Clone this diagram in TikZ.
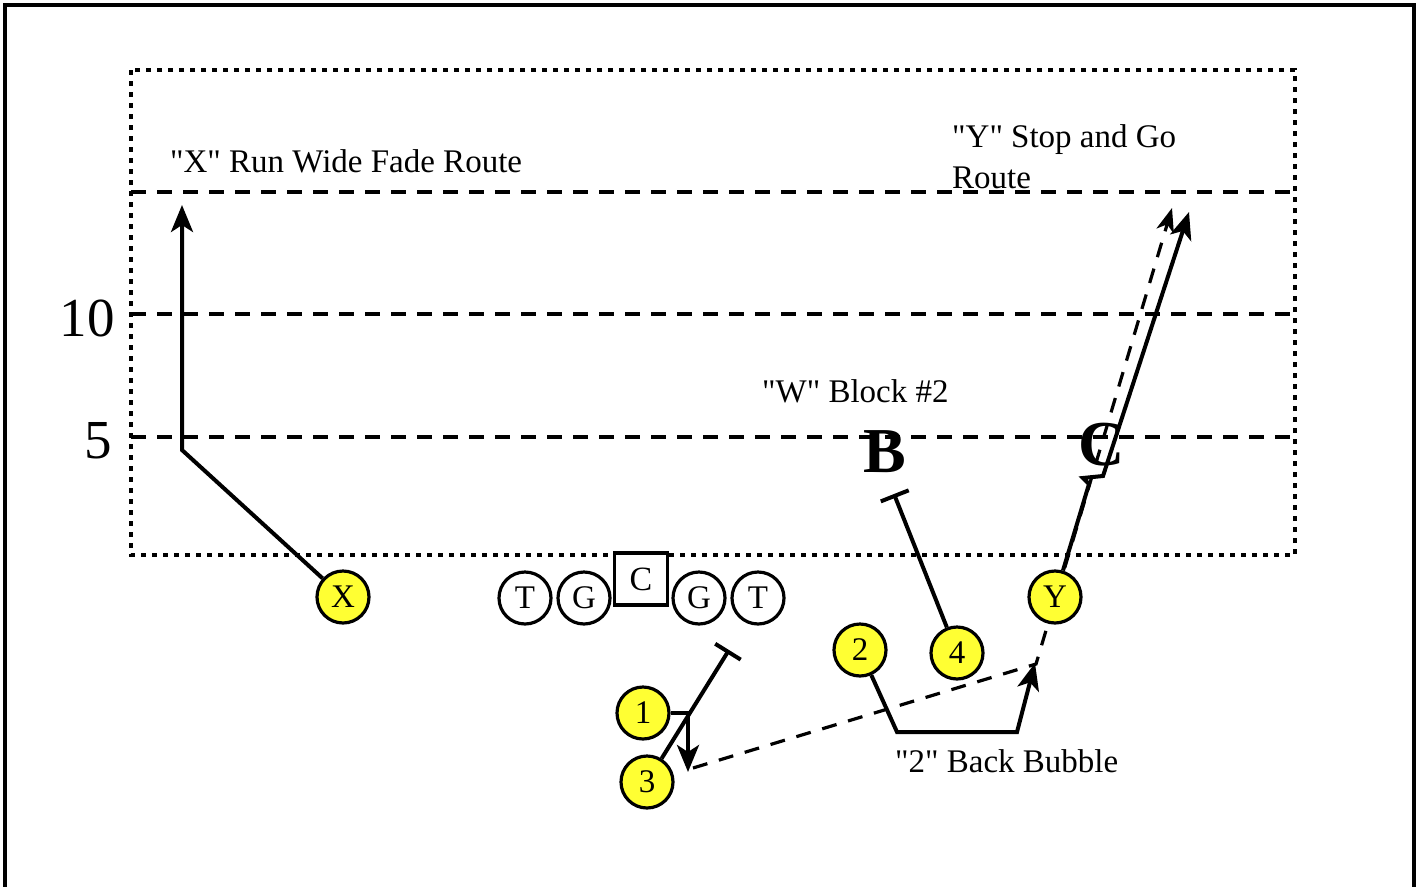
\documentclass[tikz,border=0pt]{standalone}
\usepackage{fontspec}
\setmainfont{Liberation Serif}[Ligatures=TeXOff]
\usetikzlibrary{arrows.meta}
\definecolor{plyellow}{RGB}{255,255,51}
\pgfdeclarelayer{bg}
\pgfsetlayers{bg,main}
\begin{document}
\begin{tikzpicture}[x=1pt,y=-1pt,
  player/.style={circle,draw,line width=3.2pt,minimum size=52pt,inner sep=0pt,font=\fontsize{33}{36}\selectfont},
  offp/.style={player,fill=plyellow},
  linep/.style={player,fill=white},
  centerp/.style={rectangle,draw,line width=3.2pt,minimum width=53pt,minimum height=52pt,inner sep=0pt,fill=white,font=\fontsize{34}{36}\selectfont},
  route/.style={line width=4pt},
  arr/.style={-{Stealth[length=27pt,width=22pt,inset=7pt]}},
  parr/.style={-{Stealth[length=24pt,width=18pt,inset=7pt]}},
  blk/.style={-{Bar[width=30pt]}},
  fieldline/.style={line width=3.5pt,dash pattern=on 15pt off 11pt},
  dotline/.style={line width=3.5pt,dash pattern=on 5pt off 6pt},
  passline/.style={line width=3.2pt,dash pattern=on 15pt off 12pt},
  lbl/.style={anchor=base west,inner sep=0pt,font=\fontsize{33}{40}\selectfont},
  yard/.style={inner sep=0pt,font=\fontsize{55}{60}\selectfont},
  defl/.style={inner sep=0pt,font=\bfseries\fontsize{64}{70}\selectfont}]
\useasboundingbox (0,0) rectangle (1423,886);
% frame and field
\draw[line width=3.5pt] (5,892) -- (5,5) -- (1414,5) -- (1414,892);
\begin{pgfonlayer}{bg}
\draw[dotline] (131,70) rectangle (1295,555);
\draw[fieldline] (131,192) -- (1295,192);
\draw[fieldline] (131,314) -- (1295,314);
\draw[fieldline] (131,437) -- (1295,437);
\end{pgfonlayer}
\node[yard] (y10) at (87,318) {10};
\node[yard] (y5) at (98,441) {5};
% labels
\node[lbl] (xtxt) at (170,172) {"X" Run Wide Fade Route};
\node[lbl] (ytxt1) at (952,147) {"Y" Stop and Go};
\node[lbl] (ytxt2) at (952,188) {Route};
\node[lbl] (wtxt) at (762,402) {"W" Block \#2};
\node[lbl] (btxt) at (895,772) {"2" Back Bubble};
% defenders
\node[defl] (B) at (885,452) {B};
\node[defl] (C) at (1102,445) {C};
% players
\node[offp] (X) at (343,597) {X};
\node[linep] (T1) at (525,598) {T};
\node[linep] (G1) at (584,598) {G};
\node[centerp] (Cn) at (641,579) {C};
\node[linep] (G2) at (699,598) {G};
\node[linep] (T2) at (758,598) {T};
\node[offp] (P1) at (643,713) {1};
\node[offp] (P3) at (647,782) {3};
\node[offp] (P2) at (860,650) {2};
\node[offp] (P4) at (957,653) {4};
\node[offp] (PY) at (1055,597) {Y};
% route points
\coordinate (xb) at (182,450);
\coordinate (xe) at (182,205);
\coordinate (c1) at (688,713);
\coordinate (e1) at (688,772);
\coordinate (b3) at (729,650);
\coordinate (b4) at (894,494);
\coordinate (r2a) at (897,732);
\coordinate (r2b) at (1017,732);
\coordinate (r2e) at (1035,663);
\coordinate (ya) at (1089,484);
\coordinate (yb) at (1083,478);
\coordinate (yc) at (1103,476);
\coordinate (ye) at (1189,212);
\coordinate (ps) at (693,768);
\coordinate (pc) at (1036,664);
\coordinate (pe) at (1172,208);
% routes
\draw[route,arr] (X) -- (xb) -- (xe);
\draw[route,arr] (P1.east) -- (c1) -- (e1);
\draw[route,blk] (P3) -- (b3);
\draw[route,blk] (P4) -- (b4);
\draw[route,arr] (P2) -- (r2a) -- (r2b) -- (r2e);
\draw[route,arr] (PY) -- (ya) -- (yb) -- (yc) -- (ye);
\begin{pgfonlayer}{bg}
\draw[passline,parr] (ps) -- (pc) -- (pe);
\end{pgfonlayer}
\end{tikzpicture}
\end{document}
